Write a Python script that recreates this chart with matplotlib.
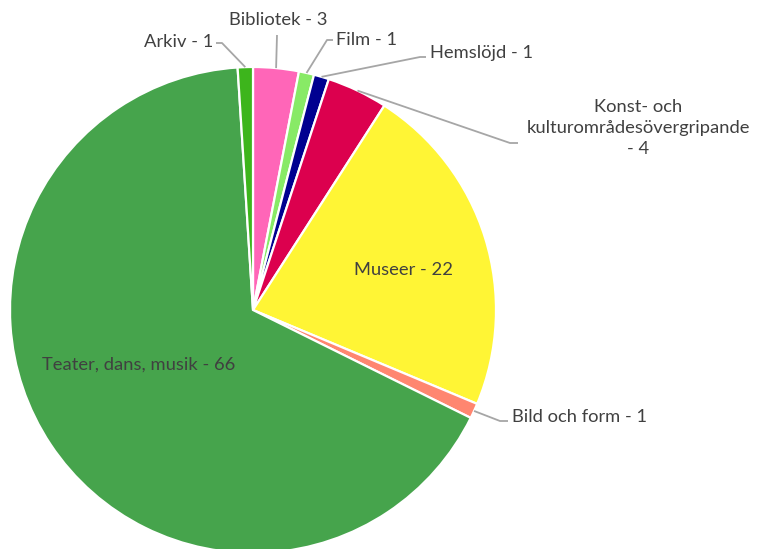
import matplotlib
matplotlib.use("Agg")
import matplotlib.pyplot as plt
import numpy as np

categories = ["Bibliotek", "Film", "Hemslöjd", "Konst- och\nkulturområdesövergripande\n", "Museer",
              "Bild och form", "Teater, dans, musik", "Arkiv"]
values = [3, 1, 1, 4, 22, 1, 66, 1]
colors = ["#FF66B8", "#88EA66", "#000090", "#DC004E", "#FFF535", "#FF8670", "#46A44C", "#3DB51C"]

plt.rcParams['font.family'] = ['Lato', 'DejaVu Sans']
TXT = "#404040"
LINE = "#A6A6A6"

W, H = 758, 549
CX, CY, R = 253, 310, 243

fig = plt.figure(figsize=(W / 100, H / 100), dpi=100)
ax = fig.add_axes([0, 0, 1, 1])

wedges, _ = ax.pie(values, colors=colors, startangle=90, counterclock=False,
                   wedgeprops=dict(edgecolor="white", linewidth=1.6))
ax.set_xlim(-CX / R, (W - CX) / R)
ax.set_ylim((CY - H) / R, CY / R)
ax.set_aspect('equal')
ax.axis('off')


def P(x, y):
    return ((x - CX) / R, (CY - y) / R)


def lab(v, name):
    return f"{name} - {v}"


fs = 13.2
# inside labels
ax.text(*P(403, 270), lab(values[4], categories[4]), ha="center", va="center", fontsize=fs, color=TXT)
ax.text(*P(139, 365), lab(values[6], categories[6]), ha="center", va="center", fontsize=fs, color=TXT)

# outside labels: (index, elbow pixel, text-end pixel, text pos pixel, ha)
outside = [
    (7, (222, 43), (216, 43), (213, 42), "right"),
    (0, (277, 35), (277, 35), (278, 20), "center"),
    (1, (327, 40), (333, 40), (336, 40), "left"),
    (2, (420, 57), (426, 57), (430, 53), "left"),
    (5, (500, 421), (508, 421), (512, 417), "left"),
]
for idx, elbow, tend, tpos, ha in outside:
    w = wedges[idx]
    mid = np.deg2rad((w.theta1 + w.theta2) / 2)
    ex, ey = np.cos(mid), np.sin(mid)
    p1, p2 = P(*elbow), P(*tend)
    ax.plot([ex, p1[0], p2[0]], [ey, p1[1], p2[1]], color=LINE, lw=1.3, solid_capstyle="butt")
    ax.text(*P(*tpos), lab(values[idx], categories[idx]), ha=ha, va="center", fontsize=fs, color=TXT)

# Konst multi-line label
w = wedges[3]
mid = np.deg2rad((w.theta1 + w.theta2) / 2)
ex, ey = np.cos(mid), np.sin(mid)
p1, p2 = P(510, 143), P(518, 143)
ax.plot([ex, p1[0], p2[0]], [ey, p1[1], p2[1]], color=LINE, lw=1.3, solid_capstyle="butt")
ax.text(*P(638, 128), categories[3] + f"- {values[3]}", ha="center", va="center",
        fontsize=fs, color=TXT, linespacing=1.35, multialignment="center")

fig.savefig("out.png", dpi=100)
